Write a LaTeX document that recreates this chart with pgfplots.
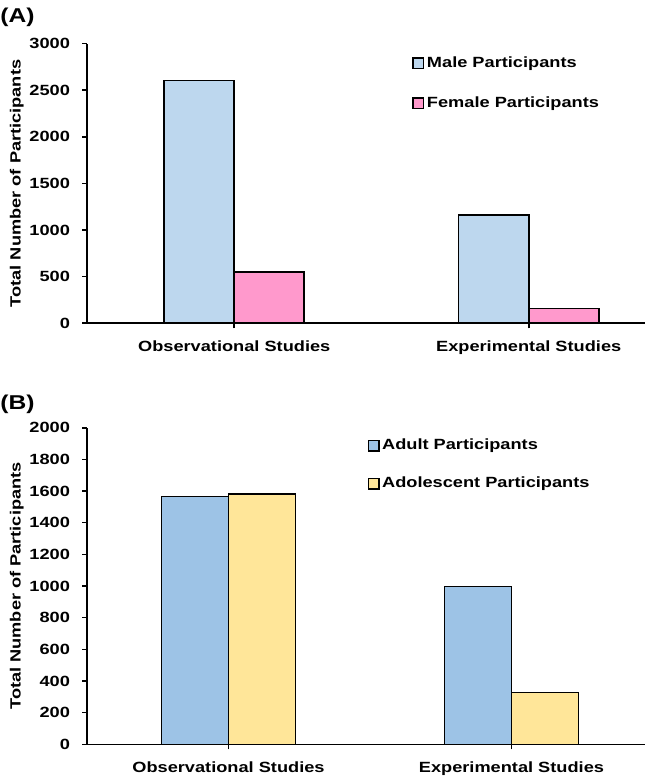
\documentclass[border=0pt]{standalone}
\usepackage{pgfplots}
\pgfplotsset{compat=1.18}
\usepackage{fontspec}
\setmainfont{Liberation Sans}[FakeStretch=1.23]
\definecolor{male}{HTML}{BDD7EE}
\definecolor{female}{HTML}{FF99CC}
\definecolor{adult}{HTML}{9DC3E6}
\definecolor{adol}{HTML}{FFE699}
\newcommand{\lbl}{\bfseries\fontsize{7.4}{9}\selectfont}
\pgfplotsset{
  mybar/.style={
    scale only axis, width=279pt,
    axis lines*=left, axis line style={line width=0.8pt, black},
    ybar=0pt, xmin=-0.5, ymin=0,
    xtick={0,1}, xticklabels={Observational Studies, Experimental Studies},
    tick align=outside, major tick length=2.5pt,
    tick style={line width=0.8pt, black},
    /pgf/number format/assume math mode=true,
    /pgf/number format/1000 sep={},
    tick label style={font=\lbl},
    xticklabel style={yshift=-2.5pt},
    yticklabel style={xshift=-2.5pt},
    label style={font=\lbl},
    ylabel={Total Number of Participants},
    ylabel style={yshift=-4pt},
    legend style={draw=none, fill=none, font=\lbl, anchor=north west,
      inner sep=0pt, nodes={inner sep=0pt, text height=5.5pt, text depth=1.5pt},
      /tikz/every odd column/.append style={column sep=1.3pt}},
    legend cell align=left,
  },
  myleg/.style={legend image code/.code={\draw[##1, line width=0.6pt, draw=black] (0pt,-2.7pt) rectangle (5.4pt,2.7pt);}},
}
\begin{document}
\begin{tikzpicture}
\useasboundingbox (0,0) rectangle (322.5pt,-389.5pt);
\node[anchor=base west, inner sep=0pt, font=\bfseries\fontsize{10}{12}\selectfont] at (0pt,-11.2pt) {(A)};
\node[anchor=base west, inner sep=0pt, font=\bfseries\fontsize{10}{12}\selectfont] at (0pt,-204.8pt) {(B)};
\begin{axis}[mybar, at={(43.5pt,-161.65pt)}, anchor=south west,
  height=139.8pt, xmax=1.395, ymax=3000, ytick={0,500,...,3000},
  bar width=35pt,
  legend style={at={(0.5824,0.956)}, /tikz/row sep=13pt}]
\addplot[fill=male, draw=black, line width=0.8pt, myleg] coordinates {(0,2605) (1,1162)};
\addlegendentry{Male Participants}
\addplot[fill=female, draw=black, line width=0.8pt, myleg] coordinates {(0,552) (1,157)};
\addlegendentry{Female Participants}
\end{axis}
\begin{axis}[mybar, at={(43.5pt,-372.15pt)}, anchor=south west,
  height=158.3pt, xmax=1.472, ymax=2000, ytick={0,200,...,2000},
  bar width=33.5pt,
  legend style={at={(0.502,0.967)}, /tikz/row sep=12pt}]
\addplot[fill=adult, draw=black, line width=0.8pt, myleg] coordinates {(0,1566) (1,998)};
\addlegendentry{Adult Participants}
\addplot[fill=adol, draw=black, line width=0.8pt, myleg] coordinates {(0,1583) (1,328)};
\addlegendentry{Adolescent Participants}
\end{axis}
\end{tikzpicture}
\end{document}
